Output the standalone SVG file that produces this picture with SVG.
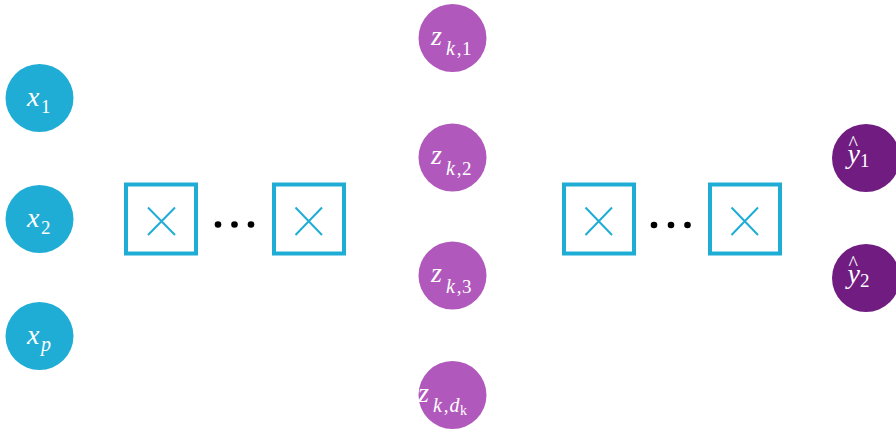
<svg xmlns="http://www.w3.org/2000/svg" width="896" height="431" viewBox="0 0 896 431">
<style>
.in{fill:#1fadd6}
.hid{fill:#b058bb}
.out{fill:#701c80}
.box{fill:none;stroke:#1fadd6;stroke-width:4}
.xl{stroke:#1fadd6;stroke-width:2;fill:none}
.dot{fill:#000}
.t{font-family:"Liberation Serif","DejaVu Serif","Times New Roman",serif;fill:#fff}
.m{font-style:italic;font-size:28px}
.si{font-style:italic;font-size:20px}
.s{font-style:normal;font-size:19px}
.ss{font-style:normal;font-size:14px}
.hat{font-style:normal;font-size:20px}
</style>
<g id="x1"><circle class="in" cx="39.5" cy="98" r="34"/><text class="t" font-family="Liberation Serif, serif" x="27" y="106"><tspan class="m">x</tspan><tspan class="s" dx="1.5" dy="7">1</tspan></text></g>
<g id="x2"><circle class="in" cx="39.5" cy="219" r="34"/><text class="t" font-family="Liberation Serif, serif" x="27" y="227"><tspan class="m">x</tspan><tspan class="s" dx="1.5" dy="7">2</tspan></text></g>
<g id="xp"><circle class="in" cx="39.5" cy="336" r="34"/><text class="t" font-family="Liberation Serif, serif" x="27" y="344"><tspan class="m">x</tspan><tspan class="si" dx="1.5" dy="7">p</tspan></text></g>

<g id="layer1a"><rect class="box" x="126" y="184.5" width="70" height="69"/><path class="xl" d="M148 207.5L175 235M175 207.5L148 235"/></g>
<g id="dots1"><circle class="dot" cx="218" cy="224.5" r="3.3"/><circle class="dot" cx="234.5" cy="224.5" r="3.3"/><circle class="dot" cx="251" cy="224.5" r="3.3"/></g>
<g id="layer1b"><rect class="box" x="274" y="184.5" width="70" height="69"/><path class="xl" d="M295.5 207.5L322 235M322 207.5L295.5 235"/></g>

<g id="z1"><circle class="hid" cx="452.5" cy="38" r="34"/><text class="t" font-family="Liberation Serif, serif" x="431" y="44.5"><tspan class="m">z</tspan><tspan class="si" dx="4" dy="10.5">k</tspan><tspan class="s" dx="2">,</tspan><tspan class="s" dx="0.5">1</tspan></text></g>
<g id="z2"><circle class="hid" cx="452.5" cy="157.5" r="34"/><text class="t" font-family="Liberation Serif, serif" x="431" y="164"><tspan class="m">z</tspan><tspan class="si" dx="4" dy="10.5">k</tspan><tspan class="s" dx="2">,</tspan><tspan class="s" dx="0.5">2</tspan></text></g>
<g id="z3"><circle class="hid" cx="452.5" cy="275.5" r="34"/><text class="t" font-family="Liberation Serif, serif" x="431" y="282"><tspan class="m">z</tspan><tspan class="si" dx="4" dy="10.5">k</tspan><tspan class="s" dx="2">,</tspan><tspan class="s" dx="0.5">3</tspan></text></g>
<g id="zd"><circle class="hid" cx="452.5" cy="395" r="34"/><text class="t" font-family="Liberation Serif, serif" x="418" y="401.5"><tspan class="m">z</tspan><tspan class="si" dx="4" dy="10.5">k</tspan><tspan class="s" dx="2">,</tspan><tspan class="si" dx="1">d</tspan><tspan class="ss" dx="0.5" dy="3">k</tspan></text></g>

<g id="layer2a"><rect class="box" x="564" y="184.5" width="70" height="69"/><path class="xl" d="M585.5 207.5L612 235M612 207.5L585.5 235"/></g>
<g id="dots2"><circle class="dot" cx="654" cy="225" r="3.3"/><circle class="dot" cx="671" cy="225" r="3.3"/><circle class="dot" cx="687.5" cy="225" r="3.3"/></g>
<g id="layer2b"><rect class="box" x="710" y="184.5" width="70" height="69"/><path class="xl" d="M731.5 207.5L758 235M758 207.5L731.5 235"/></g>

<g id="y1"><circle class="out" cx="866" cy="158" r="34"/><text class="t" font-family="Liberation Serif, serif" x="847.5" y="150"><tspan class="hat">^</tspan><tspan class="m" dx="-10.5" dy="13">y</tspan><tspan class="s" dy="4">1</tspan></text></g>
<g id="y2"><circle class="out" cx="866" cy="278" r="34"/><text class="t" font-family="Liberation Serif, serif" x="847.5" y="270"><tspan class="hat">^</tspan><tspan class="m" dx="-10.5" dy="13">y</tspan><tspan class="s" dy="4">2</tspan></text></g>
<g id="connectors"/>
</svg>
